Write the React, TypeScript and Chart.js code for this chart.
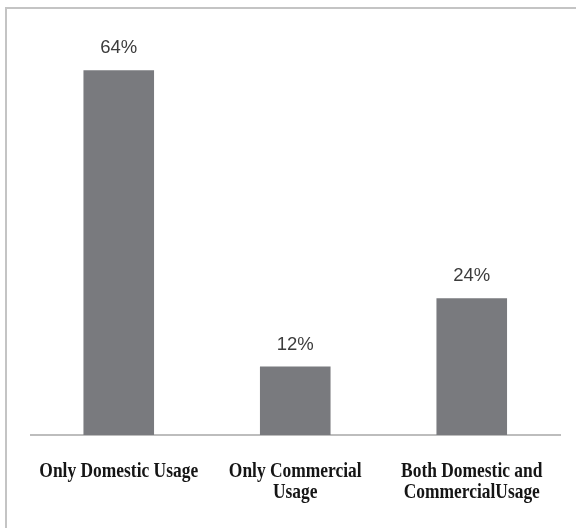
import React, { useEffect, useRef } from "react";
import { Chart, registerables } from "chart.js";

Chart.register(...registerables);

const categories: string[][] = [
  ["Only Domestic Usage"],
  ["Only Commercial", "Usage"],
  ["Both Domestic and", "CommercialUsage"],
];
const shares: number[] = [64, 12, 24];
const valueLabels: string[] = ["64%", "12%", "24%"];

export default function App() {
  const ref = useRef<HTMLCanvasElement>(null);

  useEffect(() => {
    if (!ref.current) return;
    const labelPlugin = {
      id: "customLabels",
      afterDatasetsDraw(chart: any) {
        const ctx = chart.ctx as CanvasRenderingContext2D;
        const meta = chart.getDatasetMeta(0);
        ctx.save();
        ctx.font = "18.5px 'Liberation Sans', sans-serif";
        ctx.fillStyle = "#3c3c3c";
        ctx.textAlign = "center";
        ctx.textBaseline = "alphabetic";
        meta.data.forEach((bar: any, i: number) => {
          ctx.fillText(valueLabels[i], bar.x, bar.y - 17);
        });
        const xs = chart.scales.x;
        ctx.font = "bold 21px 'Liberation Serif', serif";
        ctx.fillStyle = "#151515";
        categories.forEach((lines, i) => {
          const cx = xs.getPixelForValue(i);
          lines.forEach((line, j) => {
            ctx.save();
            ctx.translate(cx, chart.chartArea.bottom + 42 + j * 21);
            ctx.scale(0.83, 1);
            ctx.fillText(line, 0, 0);
            ctx.restore();
          });
        });
        ctx.restore();
      },
    };

    const chart = new Chart(ref.current, {
      type: "bar",
      data: {
        labels: categories.map((c) => c.join(" ")),
        datasets: [
          {
            data: shares,
            backgroundColor: "#797a7e",
            borderWidth: 0,
            barPercentage: 0.4,
            categoryPercentage: 1,
          },
        ],
      },
      options: {
        responsive: false,
        animation: false,
        layout: { padding: { left: 30.5, right: 16, top: 36, bottom: 0 } },
        plugins: {
          legend: { display: false },
          tooltip: { enabled: false },
          title: { display: false },
        },
        scales: {
          x: {
            display: true,
            grid: { display: false, drawTicks: false },
            border: { display: true, color: "#bdbdbd", width: 2 },
            ticks: { display: false },
            afterFit: (scale: any) => {
              scale.height = 93;
            },
          },
          y: {
            display: false,
            min: 0,
            max: 70,
          },
        },
      },
      plugins: [labelPlugin],
    });
    return () => chart.destroy();
  }, []);

  return (
    <div style={{ position: "absolute", left: 0, top: 0, width: 576, height: 528, overflow: "hidden", background: "#fff" }}>
      <canvas ref={ref} width={576} height={528} style={{ position: "absolute", left: 0, top: 0 }} />
      <div
        style={{
          position: "absolute",
          left: 5,
          top: 7,
          width: 600,
          height: 600,
          borderLeft: "2px solid #c4c4c4",
          borderTop: "2px solid #c4c4c4",
          pointerEvents: "none",
        }}
      />
    </div>
  );
}
